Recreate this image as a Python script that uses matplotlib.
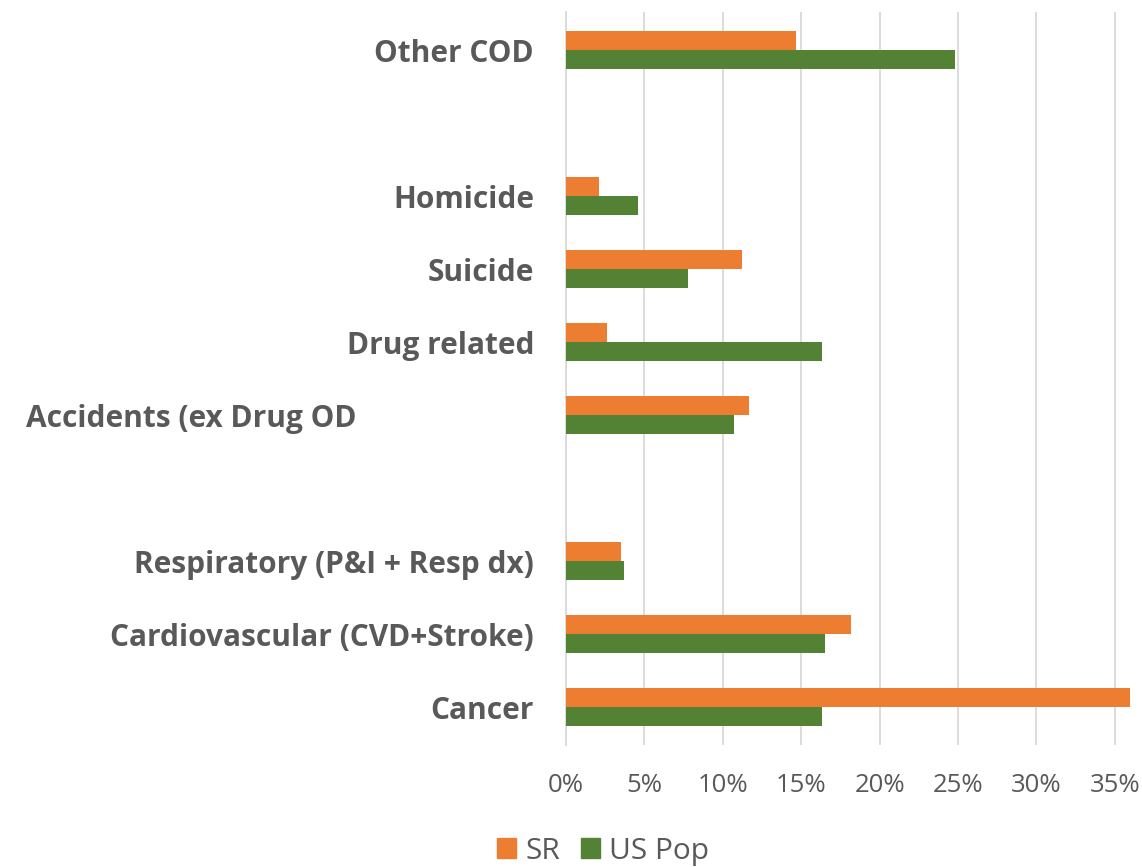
import numpy as np
import matplotlib.pyplot as plt
from matplotlib.ticker import PercentFormatter
from matplotlib.patches import Patch
from matplotlib.transforms import ScaledTranslation

# Causes of death, bottom to top (blank entries leave gaps between groups)
categories = ["Cancer", "Cardiovascular (CVD+Stroke)", "Respiratory (P&I + Resp dx)", "",
              "Accidents (ex Drug OD", "Drug related", "Suicide", "Homicide", "",
              "Other COD"]
sr_share = [36.0, 18.2, 3.5, np.nan, 11.7, 2.6, 11.2, 2.1, np.nan, 14.7]
us_pop_share = [16.3, 16.5, 3.7, np.nan, 10.7, 16.3, 7.8, 4.6, np.nan, 24.8]
x_ticks = [0, 5, 10, 15, 20, 25, 30, 35]

ORANGE = "#ED7D31"
GREEN = "#548235"
TEXT = "#595959"
GRID = "#D9D9D9"

plt.rcParams['font.family'] = ['Open Sans', 'DejaVu Sans']

fig = plt.figure(figsize=(11.42, 8.67), dpi=100)
ax = fig.add_axes([0.4956, 0.1407, 0.4984, 0.8453])

y = np.arange(len(categories))
h = 0.26
ax.barh(y + h / 2, sr_share, height=h, color=ORANGE, label="SR", zorder=3)
ax.barh(y - h / 2, us_pop_share, height=h, color=GREEN, label="US Pop", zorder=3)

ax.set_ylim(-0.52, len(categories) - 0.48)
ax.set_xlim(0, 36.3)
ax.set_xticks(x_ticks)
ax.xaxis.set_major_formatter(PercentFormatter(decimals=0))
ax.set_yticks(y)
ax.set_yticklabels(categories, fontsize=21.5, fontweight='bold', color=TEXT)
ax.tick_params(axis='y', length=0, pad=23)
ax.tick_params(axis='x', length=0, pad=20, labelsize=18.5, labelcolor=TEXT)

# the accidents label sits further left than the others
for lbl in ax.get_yticklabels():
    if lbl.get_text().startswith("Accidents"):
        lbl.set_transform(lbl.get_transform() +
                          ScaledTranslation(-1.78, 0, fig.dpi_scale_trans))

ax.grid(axis='x', color=GRID, linewidth=1.3, zorder=0)
for side in ("top", "right", "bottom"):
    ax.spines[side].set_visible(False)
ax.spines["left"].set_color(GRID)
ax.spines["left"].set_linewidth(1.3)

handles = [Patch(color=ORANGE, label="SR"), Patch(color=GREEN, label="US Pop")]
fig.legend(handles=handles, loc="center", bbox_to_anchor=(0.528, 0.018), ncol=2,
           frameon=False, fontsize=21.5, labelcolor=TEXT, handlelength=0.65,
           handleheight=0.65, handletextpad=0.3, columnspacing=0.7)

fig.savefig("out.png", dpi=100)
